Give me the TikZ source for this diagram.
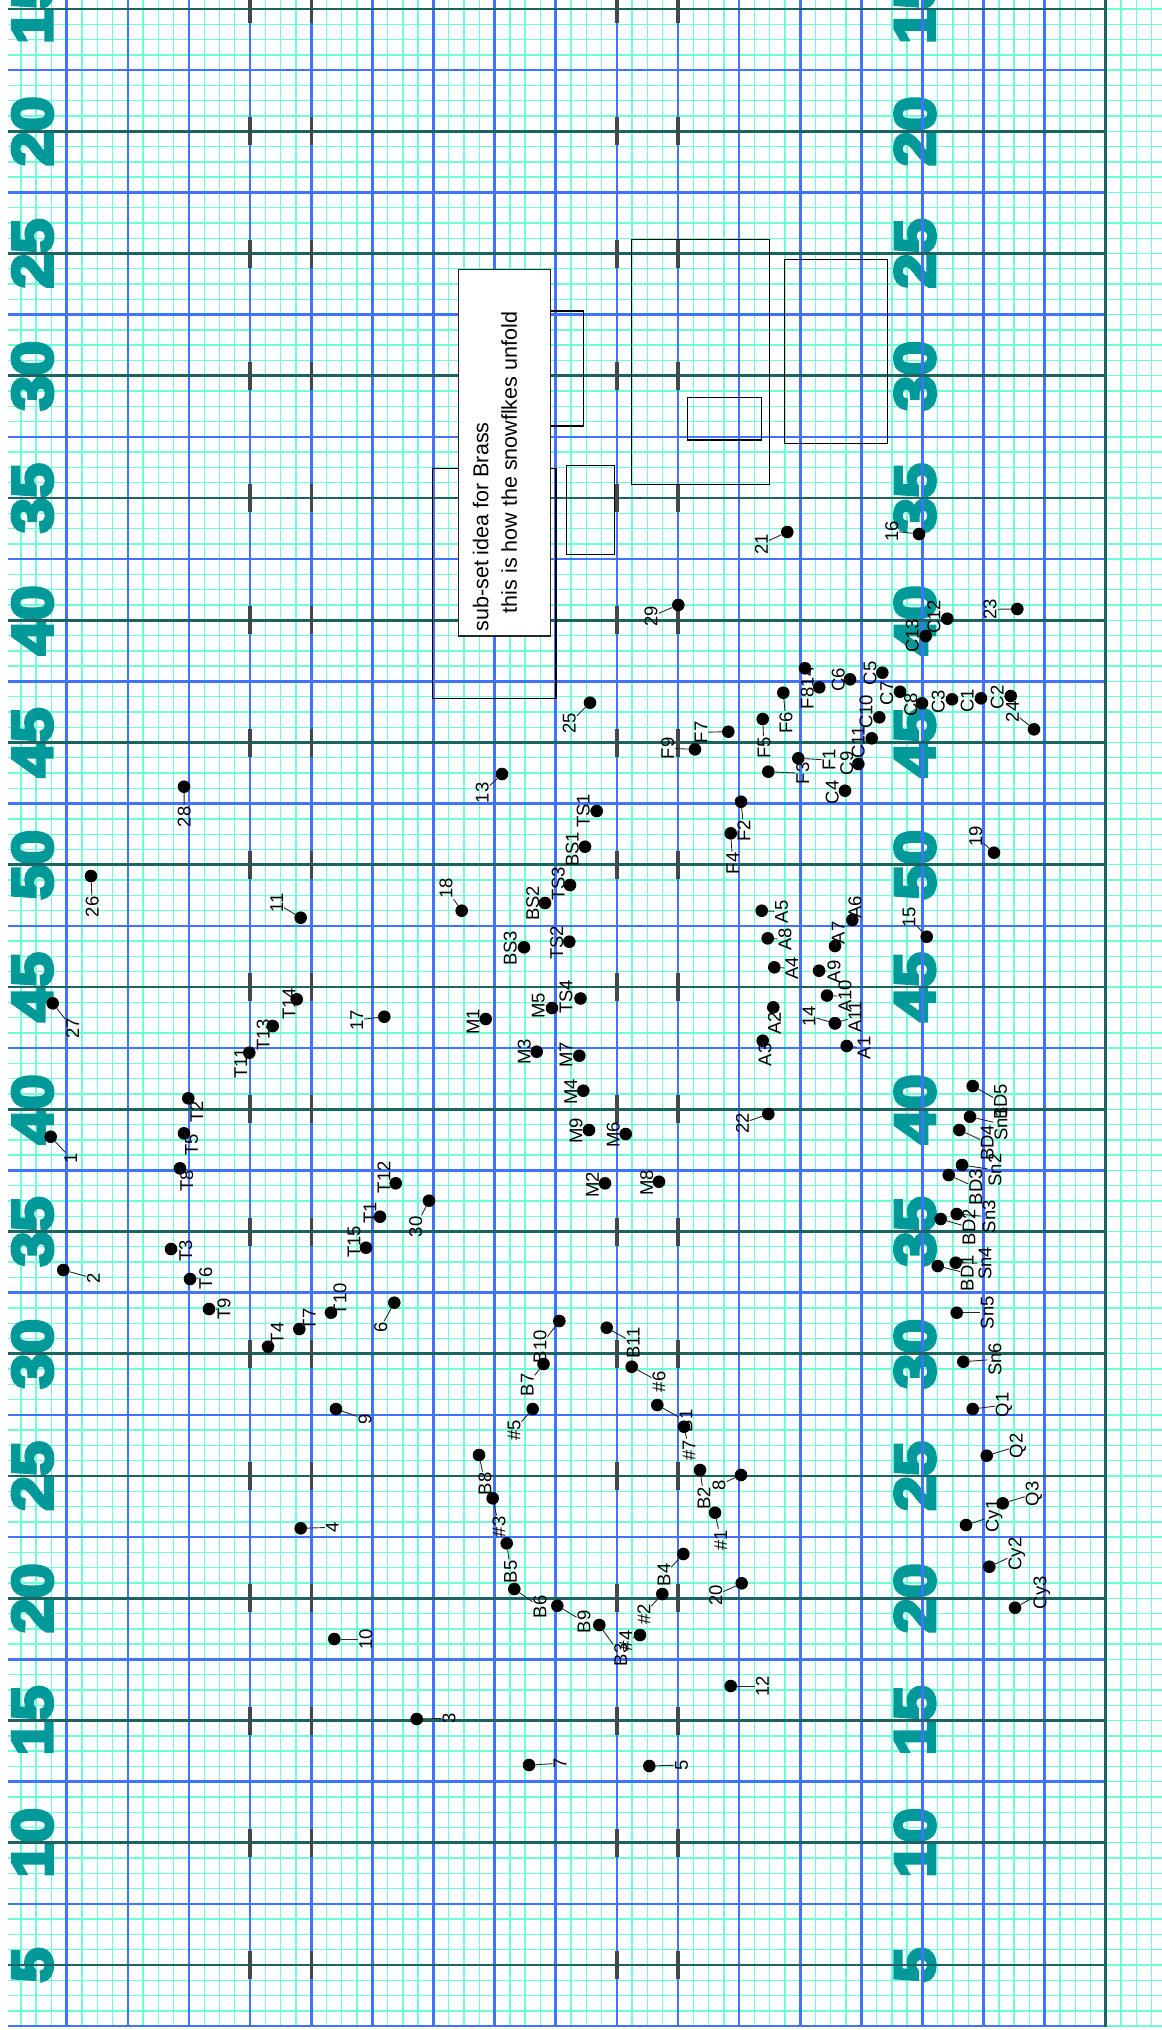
\documentclass[tikz,border=0pt]{standalone}
\usepackage{fontspec}
\setmainfont{Liberation Sans}
\newfontfamily\bignum{Liberation Sans Bold}[FakeBold=6,FakeStretch=1.1]
\definecolor{fineline}{RGB}{110,255,215}
\definecolor{majorline}{RGB}{65,115,255}
\definecolor{tealline}{RGB}{28,100,100}
\definecolor{numteal}{RGB}{0,153,153}
\definecolor{dashgray}{RGB}{64,72,76}
\newcommand\dpt[6]{%
  \node[dot] (p#1) at (#2,#3) {};
  \node[lbl] (l#1) at (#5,#6) {#4};
  \draw[lead] (p#1) -- (l#1);
}
\begin{document}
\begin{tikzpicture}[x=1pt,y=-1pt,
  fine/.style={draw=fineline,line width=1.4pt},
  major/.style={draw=majorline,line width=2.6pt},
  tealstyle/.style={draw=tealline,line width=2.6pt},
  dashmark/.style={draw=dashgray,line width=3.4pt},
  bignumstyle/.style={rotate=90,text=numteal,inner sep=0pt,font=\bignum\fontsize{57}{57}\selectfont},
  rect/.style={draw=black,line width=1.2pt},
  notebox/.style={draw=black!85,line width=1.5pt,fill=white},
  dot/.style={circle,fill=black,inner sep=0pt,minimum size=12.6pt},
  lbl/.style={rotate=90,inner sep=0.8pt,font=\fontsize{18.5}{20}\selectfont},
  lead/.style={draw=black!85,line width=0.9pt}]
\useasboundingbox (0,0) rectangle (1162,2030);
\fill[white] (0,0) rectangle (1162,2030);
% fine grid
\begin{scope}
\clip (8,0) rectangle (1162,2026.5);
\foreach \k in {-4,...,71} \draw[fine] ({66.7+\k*15.28125},0) -- ({66.7+\k*15.28125},2030);
\foreach \k in {-1,...,132} \draw[fine] (8,{9+\k*15.28125}) -- (1162,{9+\k*15.28125});
\end{scope}
% big axis numbers
\foreach \k/\t in {0/15,1/20,2/25,3/30,4/35,5/40,6/45,7/50,8/45,9/40,10/35,11/30,12/25,13/20,14/15,15/10,16/5}{
  \node[bignumstyle] (ln\k) at (32.5,{9+\k*122.25}) {\t};
  \node[bignumstyle] (rn\k) at (915,{9+\k*122.25}) {\t};
}
% major grid
\foreach \k in {0,...,16} \draw[major] ({66.7+\k*61.125},0) -- ({66.7+\k*61.125},2027);
\foreach \k in {1,3,...,33} \draw[major] (8,{9+\k*61.125}) -- (1105.8,{9+\k*61.125});
\foreach \k in {0,2,...,32} \draw[tealstyle] (8,{9+\k*61.125}) -- (1105.8,{9+\k*61.125});
\draw[tealstyle,line width=3pt] (1105.8,0) -- (1105.8,2027);
% dashes
\foreach \xx in {250.1,311.2,616.8,677.95}
  \foreach \k in {0,...,16}
    \draw[dashmark] (\xx,{9+\k*122.25-14}) -- (\xx,{9+\k*122.25+14});
% rectangles
\draw[rect] (432.7,468.3) rectangle (556,698.5);
\draw[rect] (540,311) rectangle (583.3,426);
\draw[rect] (566.7,465.7) rectangle (614.3,554.3);
\draw[rect] (631.7,239.3) rectangle (769.3,484.3);
\draw[rect] (687.3,397.7) rectangle (761.7,440);
\draw[rect] (784.3,259.3) rectangle (887.3,443.3);
\draw[notebox] (458.3,269.3) rectangle (550.7,636);
\node[rotate=90,anchor=north west,inner sep=0pt,align=left,font=\fontsize{21.5}{28.4}\selectfont] (note) at (472.6,631.7)
  {sub-set idea for Brass\\\hspace*{18.4pt}this is how the snowflkes unfold};
% numbered points
\dpt{n28}{184}{786.7}{28}{184.3}{816.7}
\dpt{n26}{91}{876}{26}{92.3}{906.7}
\dpt{n11}{300.7}{917.7}{11}{276.7}{903.3}
\dpt{n18}{461.7}{910.7}{18}{446}{888.3}
\dpt{n13}{502}{774}{13}{482.3}{792.7}
\dpt{n21}{787.3}{532}{21}{761.5}{544}
\dpt{n16}{919}{534}{16}{891.7}{531}
\dpt{n29}{678.3}{605}{29}{651}{616.5}
\dpt{n23}{1017.3}{609}{23}{990}{609.3}
\dpt{n25}{590}{702.7}{25}{569.3}{723.3}
\dpt{n24}{1034}{729.3}{24}{1012.3}{711.7}
\dpt{n19}{994}{852.7}{19}{975.7}{836}
\dpt{n15}{926.7}{936.7}{15}{909}{917.3}
\dpt{n14}{835}{1023.3}{14}{809}{1016}
\dpt{n22}{768.3}{1114}{22}{742.3}{1123.3}
\dpt{n27}{52.7}{1003.3}{27}{72.7}{1028.3}
\dpt{n17}{384.3}{1016.7}{17}{356.7}{1020}
\dpt{n1}{50.7}{1136.7}{1}{70.7}{1158.3}
\dpt{n30}{429}{1200.7}{30}{415.7}{1226.7}
\dpt{n2}{63.3}{1270}{2}{93.3}{1278.3}
\dpt{n6}{394.3}{1302.7}{6}{380.7}{1327.3}
\dpt{n9}{336}{1409}{9}{365}{1419}
\dpt{n4}{300.7}{1528.3}{4}{332.3}{1527.3}
\dpt{n10}{334.3}{1639}{10}{365.7}{1639}
\dpt{n3}{416.7}{1719}{3}{449}{1718.3}
\dpt{n7}{529}{1765}{7}{560}{1763.3}
\dpt{n5}{649.3}{1766}{5}{681.7}{1765}
\dpt{n12}{730.7}{1686}{12}{762.3}{1686}
\dpt{n20}{741.7}{1583.3}{20}{715.7}{1595}
\dpt{n8}{741}{1475}{8}{719}{1485}
% T series
\dpt{T1}{380}{1216.7}{T1}{370}{1212.7}
\dpt{T2}{188.3}{1098.3}{T2}{196.7}{1111.7}
\dpt{T3}{171}{1249}{T3}{185.7}{1250.7}
\dpt{T4}{268}{1346.7}{T4}{277.3}{1333.3}
\dpt{T5}{184}{1133.3}{T5}{191.7}{1145}
\dpt{T6}{190}{1279}{T6}{205.7}{1278.3}
\dpt{T7}{299.3}{1329}{T7}{309.3}{1319.3}
\dpt{T8}{180}{1168.3}{T8}{186.7}{1180.7}
\dpt{T9}{209}{1309}{T9}{224}{1309}
\dpt{T10}{331}{1312.7}{T10}{340}{1299.3}
\dpt{T11}{249.3}{1052.7}{T11}{240.7}{1063.3}
\dpt{T12}{395.7}{1183.3}{T12}{384}{1177.3}
\dpt{T13}{272.7}{1026}{T13}{263.3}{1035}
\dpt{T14}{296.7}{999.3}{T14}{289}{1004}
\dpt{T15}{366}{1247.7}{T15}{354}{1241.7}
% M series
\dpt{M1}{485.7}{1019}{M1}{473}{1022}
\dpt{M2}{605}{1183.3}{M2}{592.3}{1185}
\dpt{M3}{536.7}{1051.7}{M3}{524.3}{1051.7}
\dpt{M4}{583.3}{1090.7}{M4}{570.7}{1091.7}
\dpt{M5}{552}{1008}{M5}{538.3}{1006}
\dpt{M6}{625.7}{1134}{M6}{613.3}{1135}
\dpt{M7}{579.3}{1055.7}{M7}{566}{1055}
\dpt{M8}{659}{1181.7}{M8}{646.7}{1182.7}
\dpt{M9}{589}{1130}{M9}{576}{1131}
% TS / BS
\dpt{TS1}{596.7}{811}{TS1}{583.3}{810.7}
\dpt{TS2}{569.3}{941.7}{TS2}{556.7}{942.7}
\dpt{TS3}{570}{885}{TS3}{558.3}{884}
\dpt{TS4}{580.5}{998.5}{TS4}{566}{997}
\dpt{BS1}{585}{846.7}{BS1}{572.3}{849.3}
\dpt{BS2}{545}{903}{BS2}{532.7}{903.3}
\dpt{BS3}{524}{947.3}{BS3}{510.3}{948.3}
% F series
\dpt{F1}{798.3}{758.3}{F1}{829}{760}
\dpt{F2}{741}{801.7}{F2}{744}{830.7}
\dpt{F3}{768.3}{771.7}{F3}{802.7}{773.3}
\dpt{F4}{730.7}{833.3}{F4}{732.7}{863.3}
\dpt{F5}{762.7}{719}{F5}{764}{747.7}
\dpt{F6}{783.3}{692.7}{F6}{786}{722.7}
\dpt{F7}{728.3}{731.7}{F7}{701}{732.3}
\dpt{F8}{819.3}{687.3}{F8}{807.3}{698.3}
\dpt{F14}{805}{668.3}{14}{807.3}{676.7}
\dpt{F9}{695}{749.3}{F9}{667.7}{748.3}
% C series
\dpt{C1}{981}{698.3}{C1}{967.3}{701}
\dpt{C2}{1010.7}{696}{C2}{997.3}{697.3}
\dpt{C3}{952}{699.3}{C3}{938.3}{701.7}
\dpt{C4}{845}{790.7}{C4}{832.3}{792.3}
\dpt{C5}{882.3}{672.7}{C5}{870}{673.3}
\dpt{C6}{850}{679.3}{C6}{838.3}{680}
\dpt{C7}{900}{691.7}{C7}{886.7}{693.3}
\dpt{C8}{922}{703.3}{C8}{910.7}{705}
\dpt{C9}{858.3}{764}{C9}{846.7}{763.3}
\dpt{C10}{879.3}{717.3}{C10}{866}{711.7}
\dpt{C11}{871.7}{738.3}{C11}{858.3}{742.7}
\dpt{C12}{947.3}{618.7}{C12}{934}{616.7}
\dpt{C13}{925.7}{636}{C13}{912.3}{636}
% A series
\dpt{A2}{773.3}{1007.3}{A2}{774.3}{1023.3}
\dpt{A3}{762.7}{1040.7}{A3}{765}{1055}
\dpt{A4}{774.3}{967.3}{A4}{791.7}{968.3}
\dpt{A5}{761.7}{910.7}{A5}{781.7}{911.7}
\dpt{A6}{852.3}{920}{A6}{855}{907.3}
\dpt{A7}{835}{946}{A7}{838.3}{932.7}
\dpt{A8}{767.7}{938.3}{A8}{785}{939.3}
\dpt{A9}{819}{970.7}{A9}{834}{971.7}
\dpt{A10}{827}{995.5}{A10}{845}{996.5}
\dpt{A11}{835}{1023.3}{A11}{855}{1016.7}
\dpt{A1}{846.7}{1046}{A1}{864}{1048}
% Sn / BD
\dpt{BD5}{972.7}{1086}{BD5}{1000.7}{1101.7}
\dpt{Sn1}{970}{1116.7}{Sn1}{1001}{1124}
\dpt{BD4}{959.3}{1130}{BD4}{987.3}{1142.7}
\dpt{Sn2}{962}{1165}{Sn2}{995}{1170}
\dpt{BD3}{948.7}{1175}{BD3}{975.7}{1187.3}
\dpt{Sn3}{956.7}{1214}{Sn3}{989}{1216.7}
\dpt{BD2}{940.7}{1219}{BD2}{969}{1227.3}
\dpt{Sn4}{955.7}{1262.7}{Sn4}{985}{1263.3}
\dpt{BD1}{937.7}{1266}{BD1}{967.3}{1273.3}
\dpt{Sn5}{956.7}{1312.7}{Sn5}{987.3}{1312.7}
\dpt{Sn6}{963.3}{1361.7}{Sn6}{995}{1359.3}
\dpt{Q1}{972.7}{1409}{Q1}{1004}{1405}
\dpt{Q2}{986.7}{1455.7}{Q2}{1018}{1446}
\dpt{Q3}{1002.7}{1503.3}{Q3}{1034}{1494}
\dpt{Cy1}{966}{1525}{Cy1}{994}{1516}
\dpt{Cy2}{989.3}{1566.7}{Cy2}{1016.7}{1554}
\dpt{Cy3}{1015}{1607.7}{Cy3}{1041.7}{1592.7}
% B and # series
\dpt{B1}{657.3}{1405}{B1}{686}{1421}
\dpt{h7}{684}{1426.7}{\#7}{689}{1450}
\dpt{B2}{700}{1470}{B2}{704}{1498.3}
\dpt{h1}{715}{1512.7}{\#1}{720.7}{1540}
\dpt{B4}{683.3}{1554}{B4}{664}{1575}
\dpt{h2}{662.3}{1594}{\#2}{644}{1614}
\dpt{h4}{640}{1635}{\#4}{625.7}{1640.7}
\dpt{B3}{599.3}{1625}{B3}{620.7}{1655}
\dpt{B9}{557.3}{1605.7}{B9}{584}{1621.7}
\dpt{B6}{514.3}{1589}{B6}{540}{1607}
\dpt{B5}{506.7}{1543.3}{B5}{510.7}{1571.7}
\dpt{h3}{492.7}{1498.3}{\#3}{499}{1526.7}
\dpt{B8}{479}{1455}{B8}{485}{1484}
\dpt{h5}{532.7}{1409}{\#5}{514}{1430}
\dpt{B7}{543.5}{1364}{B7}{527.3}{1385}
\dpt{B10}{559.3}{1321}{B10}{540}{1346.7}
\dpt{B11}{606.7}{1327.7}{B11}{633.3}{1342.7}
\dpt{h6}{631.7}{1366.7}{\#6}{659}{1381.7}
\end{tikzpicture}
\end{document}
